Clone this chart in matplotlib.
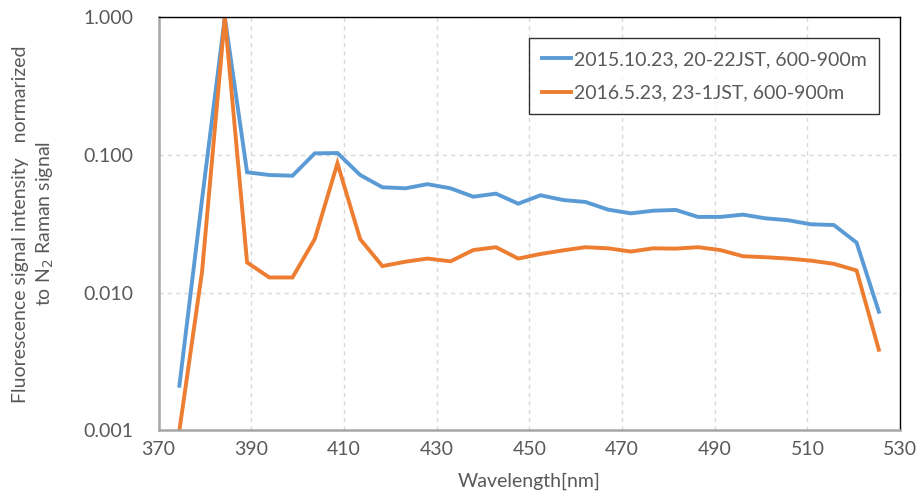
import numpy as np
import matplotlib
matplotlib.use("Agg")
import matplotlib.pyplot as plt
from matplotlib.ticker import FixedLocator, NullLocator

# Wavelength sampling (nm)
wavelength = [374.5, 379.4, 384.3, 389.1, 393.9, 398.9, 403.7, 408.6, 413.5,
              418.3, 423.3, 428.0, 433.0, 437.9, 442.8, 447.6, 452.4, 457.3,
              462.1, 467.0, 471.9, 476.7, 481.6, 486.4, 491.2, 496.1, 500.9,
              505.8, 510.7, 515.7, 520.6, 525.4]

# 2015.10.23 profile
sig2015 = [0.00211, 0.048, 1.0, 0.0749, 0.0716, 0.0707, 0.1028, 0.1034, 0.0716,
           0.0583, 0.0573, 0.0614, 0.0573, 0.0498, 0.0524, 0.0443, 0.0510,
           0.0471, 0.0456, 0.0401, 0.0377, 0.0394, 0.0399, 0.0355, 0.0355,
           0.0369, 0.0347, 0.0336, 0.0314, 0.0310, 0.0231, 0.00728]

# 2016.5.23 profile
sig2016 = [0.001, 0.0143, 1.0, 0.0166, 0.0129, 0.0129, 0.0245, 0.0871, 0.0245,
           0.0156, 0.0168, 0.0177, 0.0169, 0.0204, 0.0214, 0.0177, 0.0191,
           0.0203, 0.0214, 0.0210, 0.0199, 0.0210, 0.0209, 0.0214, 0.0204,
           0.0184, 0.0181, 0.0177, 0.0171, 0.0162, 0.0145, 0.00385]

labels = ["2015.10.23, 20-22JST, 600-900m", "2016.5.23, 23-1JST, 600-900m"]
yticks = [0.001, 0.01, 0.1, 1.0]
yticklabels = ["0.001", "0.010", "0.100", "1.000"]
xticks = list(range(370, 531, 20))

plt.rcParams['font.family'] = ['Lato', 'DejaVu Sans']

fig = plt.figure(figsize=(9.19, 4.99), dpi=100)
ax = fig.add_axes([0.1725, 0.1375, 0.807, 0.8278])

ax.plot(wavelength, sig2015, color="#5B9BD5", lw=2.8, label=labels[0],
        solid_joinstyle="miter")
ax.plot(wavelength, sig2016, color="#ED7D31", lw=2.8, label=labels[1],
        solid_joinstyle="miter")

ax.set_yscale("log")
ax.set_xlim(370, 530)
ax.set_ylim(0.001, 1.0)
ax.yaxis.set_major_locator(FixedLocator(yticks))
ax.yaxis.set_minor_locator(NullLocator())
ax.set_yticklabels(yticklabels)
ax.set_xticks(xticks)

ax.grid(True, which="major", color="#d9d9d9", linestyle=(0, (3, 3)), lw=1.0)
ax.set_axisbelow(True)
ax.tick_params(length=0, labelsize=14, labelcolor="#595959")
ax.tick_params(axis="x", pad=8)
ax.tick_params(axis="y", pad=18)

for side in ["left", "bottom"]:
    ax.spines[side].set_color("#a6a6a6")
    ax.spines[side].set_linewidth(1.8)
for side in ["top", "right"]:
    ax.spines[side].set_color("#000000")
    ax.spines[side].set_linewidth(1.0)

ax.set_xlabel("Wavelength[nm]", fontsize=14, color="#595959", labelpad=10)
ax.set_ylabel("Fluorescence signal intensity   normarized\nto N$_2$ Raman signal",
              fontsize=14, color="#595959", labelpad=20, linespacing=1.35)

leg = ax.legend(loc="upper left", bbox_to_anchor=(0.4997, 0.765, 0.4723, 0.184),
                mode="expand", borderaxespad=0, fontsize=14, frameon=True,
                fancybox=False, edgecolor="#000000", handlelength=1.5,
                handletextpad=0.15, labelspacing=0.85, borderpad=0.65)
leg.get_frame().set_linewidth(1.0)
for t in leg.get_texts():
    t.set_color("#595959")

fig.savefig("out.png", dpi=100)
